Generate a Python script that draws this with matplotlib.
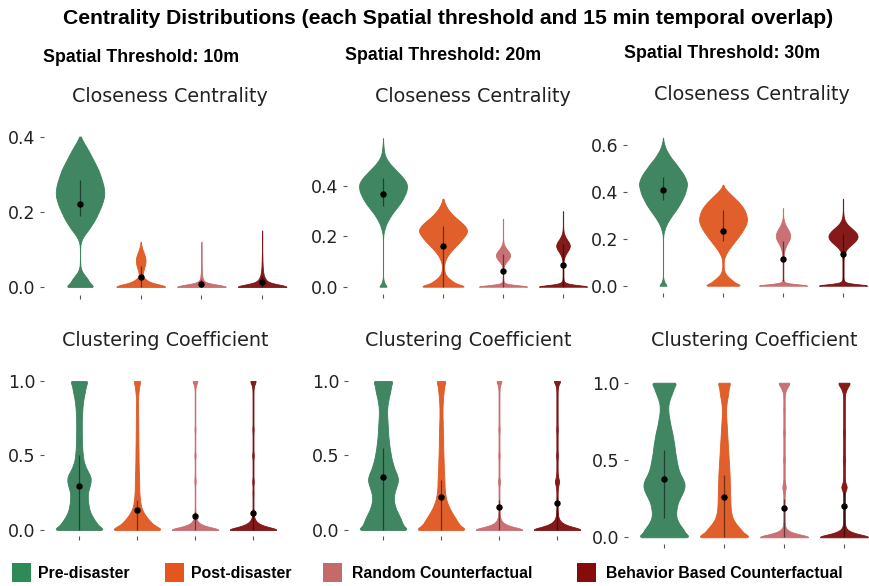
import numpy as np
import matplotlib
matplotlib.use('Agg')
import matplotlib.pyplot as plt
from matplotlib.patches import Rectangle

groups = ['Pre-disaster', 'Post-disaster', 'Random Counterfactual',
          'Behavior Based Counterfactual']
colors = ['#2e8b57', '#e4561d', '#c46a6a', '#860b0b']
violin_colors = ['#37805a', '#e0561f', '#c8696c', '#7d0d0d']
thresholds = ['10m', '20m', '30m']

# closeness centrality: number of nodes per 0.01 bin, first bin at 0.0
close_step = 0.01
close_10 = [
    [130, 80, 66, 42, 18, 6, 2, 1, 1, 1, 1,
     2, 8, 20, 40, 64, 86, 106, 124, 140, 154, 168, 180, 190, 198, 200,
     198, 192, 184, 174, 164, 152, 138, 122, 106, 90, 74, 56, 38, 20, 6],
    [200, 65, 29, 8, 14, 20, 27, 30, 27, 19, 10, 4, 1],
    [200, 20, 8, 5, 3, 2, 2, 1, 1, 1, 1, 1, 1],
    [200, 40, 20, 10, 6, 4, 3, 2, 2, 1, 1, 1, 1, 1, 1, 1],
]
close_20 = [
    [38, 16, 8, 3] + [1] * 16 +
    [2, 4, 8, 14, 20, 28, 38, 50, 62, 76, 92, 108, 124, 140, 154, 166, 176,
     186, 194, 198, 200, 196, 186, 172, 154, 134, 114, 94, 74, 56, 40, 28,
     18, 12, 8, 6, 4, 2, 1, 1],
    [216, 120, 84, 56, 34, 20, 12, 9, 9, 10, 16, 24, 34, 48, 64, 82, 102,
     122, 142, 160, 176, 190, 200, 196, 184, 164, 140, 116, 92, 72, 54, 38,
     26, 16, 8, 4],
    [200, 10, 3, 2, 1, 1, 2, 2, 4, 9, 20, 32, 40, 40, 32, 20, 11, 4, 2,
     1, 1, 1, 1, 1, 1, 1, 1, 1],
    [200, 25, 5, 3, 2, 2, 2, 2, 2, 2, 3, 5, 9, 16, 25, 34, 40, 38, 30, 20,
     12, 6, 3, 2, 1, 1, 1, 1, 1, 1, 1],
]
close_30 = [
    [38, 16, 8, 3] + [1] * 17 +
    [2, 4, 8, 14, 20, 28, 38, 50, 62, 76, 90, 104, 118, 130, 142, 152, 162,
     172, 180, 186, 192, 196, 200, 198, 192, 184, 174, 162, 148, 134, 120,
     106, 90, 74, 60, 48, 36, 26, 18, 12, 6, 3, 1],
    [168, 110, 84, 60, 38, 22, 12, 8, 6, 6, 6, 8, 12, 20, 30, 42, 56, 70,
     86, 100, 116, 130, 144, 158, 170, 180, 190, 196, 200, 198, 194, 188,
     180, 170, 156, 140, 122, 102, 82, 62, 42, 24, 10, 2],
    [200, 12, 4, 2, 2, 2, 2, 2, 2, 2, 2, 2, 3, 4, 6, 8, 12, 17, 24, 32, 38,
     41, 40, 35, 28, 20, 13, 8, 4, 2, 1, 1, 1, 1],
    [200, 20, 6, 3, 3, 3, 3, 3, 3, 3, 3, 3, 4, 6, 10, 16, 26, 40, 56, 70,
     80, 84, 80, 70, 56, 40, 26, 16, 9, 5, 3, 2, 1, 1, 1, 1, 1, 1],
]

# clustering coefficient: number of nodes per 0.025 bin from 0.0 to 1.0
clust_step = 0.025
clust_10 = [
    [254, 184, 160, 136, 116, 100, 92, 86, 82, 80, 82, 90, 100, 108, 108,
     96, 76, 60, 48, 40, 36, 32, 30, 28, 28, 26, 26, 26, 26, 26, 26, 28, 30,
     32, 36, 40, 46, 54, 60, 66, 86],
    [257, 170, 130, 100, 74, 54, 40, 32, 28, 24, 22, 20, 20, 20, 18, 18, 16,
     16, 15, 14, 14, 14, 13, 13, 12, 12, 12, 11, 11, 11, 10, 10, 10, 10, 9,
     8, 10, 14, 18, 22, 34],
    [200, 60, 20, 8, 4, 3, 2, 2, 2, 2, 2, 2, 2, 5, 3, 2, 2, 2, 2, 2, 5, 2, 2,
     2, 2, 2, 2, 4, 2, 2, 2, 2, 2, 2, 2, 2, 2, 2, 3, 6, 20],
    [200, 70, 26, 10, 5, 4, 3, 3, 3, 3, 4, 3, 3, 6, 3, 3, 3, 3, 3, 3, 6, 3, 3,
     3, 3, 3, 3, 5, 3, 3, 3, 3, 3, 3, 3, 3, 3, 3, 4, 8, 22],
]
clust_20 = [
    [252, 190, 178, 164, 148, 130, 116, 106, 100, 100, 106, 116, 128, 138,
     138, 128, 112, 100, 90, 80, 74, 68, 62, 58, 54, 50, 48, 46, 44, 42, 40,
     38, 38, 40, 44, 50, 58, 66, 72, 76, 98],
    [255, 180, 156, 136, 114, 94, 76, 62, 50, 42, 38, 34, 32, 32, 30, 28, 26,
     26, 24, 24, 22, 22, 20, 20, 20, 20, 18, 18, 16, 16, 14, 14, 14, 14, 16,
     18, 20, 24, 28, 32, 46],
    [200, 64, 22, 9, 5, 4, 3, 3, 3, 3, 3, 3, 3, 8, 3, 3, 3, 3, 3, 3, 5, 3, 3,
     3, 3, 3, 3, 5, 3, 3, 3, 3, 3, 3, 3, 3, 3, 3, 4, 7, 20],
    [200, 76, 28, 12, 6, 5, 4, 4, 4, 4, 4, 5, 8, 16, 8, 5, 4, 4, 4, 4, 7, 4,
     4, 4, 4, 4, 4, 6, 4, 4, 4, 4, 4, 4, 4, 4, 4, 4, 5, 9, 26],
]
clust_30 = [
    [252, 190, 176, 148, 126, 112, 108, 110, 116, 124, 140, 158, 174, 184,
     184, 170, 152, 136, 126, 118, 112, 106, 100, 96, 92, 86, 80, 74, 66, 58,
     52, 46, 40, 38, 38, 44, 54, 68, 82, 92, 121],
    [256, 176, 150, 120, 94, 76, 66, 60, 58, 56, 56, 54, 54, 52, 52, 50, 50,
     48, 46, 44, 42, 40, 38, 36, 34, 32, 30, 28, 26, 24, 22, 20, 18, 18, 20,
     24, 30, 36, 40, 44, 61],
    [200, 56, 14, 6, 4, 4, 4, 4, 4, 4, 4, 4, 6, 12, 6, 4, 4, 4, 4, 4, 6, 4, 4,
     4, 4, 4, 4, 6, 4, 4, 4, 4, 4, 5, 4, 4, 4, 5, 10, 22, 40],
    [200, 60, 16, 7, 5, 5, 5, 5, 5, 5, 5, 5, 8, 20, 8, 5, 5, 5, 5, 5, 8, 5, 5,
     5, 5, 5, 5, 7, 5, 5, 5, 5, 5, 5, 5, 5, 5, 6, 12, 24, 42],
]

# medians (dots) and interquartile ranges (thin lines)
close_med = [[0.22, 0.027, 0.008, 0.013], [0.37, 0.163, 0.064, 0.086],
             [0.407, 0.232, 0.112, 0.137]]
close_q1 = [[0.19, 0.0, 0.0, 0.0], [0.32, 0.0, 0.0, 0.0],
            [0.365, 0.19, 0.02, 0.02]]
close_q3 = [[0.285, 0.055, 0.02, 0.03], [0.43, 0.24, 0.13, 0.17],
            [0.464, 0.322, 0.19, 0.22]]
clust_med = [[0.298, 0.134, 0.094, 0.112], [0.358, 0.224, 0.157, 0.179],
             [0.377, 0.26, 0.188, 0.203]]
clust_q1 = [[0.0, 0.0, 0.0, 0.0], [0.0, 0.0, 0.0, 0.0],
            [0.123, 0.0, 0.0, 0.0]]
clust_q3 = [[0.5, 0.2, 0.12, 0.14], [0.55, 0.336, 0.2, 0.22],
            [0.567, 0.405, 0.25, 0.3]]

W, H = 869, 586
fig = plt.figure(figsize=(W / 100, H / 100), dpi=100)


def px_axes(x0, x1, ytop, ybot):
    return fig.add_axes([x0 / W, 1 - ybot / H, (x1 - x0) / W, (ybot - ytop) / H])


def draw_panel(ax, counts, step, med, q1, q3, ylim, yticks):
    for i, c in enumerate(counts):
        vals = np.repeat(np.arange(len(c)) * step, c)
        h = 0.6 * step
        vp = ax.violinplot(vals, positions=[i + 1], widths=0.8, points=400,
                           showextrema=False,
                           bw_method=lambda k, h=h: h / np.std(k.dataset, ddof=1))
        for b in vp['bodies']:
            b.set_facecolor(violin_colors[i])
            b.set_edgecolor(violin_colors[i])
            b.set_linewidth(0.6)
            b.set_alpha(0.95)
        ax.vlines(i + 1, q1[i], q3[i], color='black', lw=0.9, alpha=0.5, zorder=3)
        ax.scatter(i + 1, med[i], s=13, color='black', zorder=4)
    ax.set_xlim(0.4, 4.6)
    ax.set_ylim(*ylim)
    ax.set_xticks([1, 2, 3, 4])
    ax.set_xticklabels([])
    ax.set_yticks(yticks)
    ax.set_yticklabels(['%.1f' % t for t in yticks], fontsize=12.5, color='#222222')
    ax.tick_params(length=3, width=0.8, color='#555555', pad=3)
    for s in ax.spines.values():
        s.set_visible(False)


# top row: closeness centrality
top_axes = [px_axes(43.6, 298.5, 129.0, 294.5),
            px_axes(347, 599, 130.6, 294.3),
            px_axes(627, 879, 130.6, 292.8)]
close_data = [close_10, close_20, close_30]
close_lims = [(-0.02, 0.42), (-0.03, 0.62), (-0.03, 0.66)]
close_ticks = [[0, 0.2, 0.4], [0, 0.2, 0.4], [0, 0.2, 0.4, 0.6]]
for j, ax in enumerate(top_axes):
    draw_panel(ax, close_data[j], close_step, close_med[j], close_q1[j],
               close_q3[j], close_lims[j], close_ticks[j])

# bottom row: clustering coefficient
bot_axes = [px_axes(44.2, 287.8, 375, 536),
            px_axes(348.2, 591.8, 375, 536),
            px_axes(628, 880, 376.5, 543.5)]
clust_data = [clust_10, clust_20, clust_30]
for j, ax in enumerate(bot_axes):
    draw_panel(ax, clust_data[j], clust_step, clust_med[j], clust_q1[j],
               clust_q3[j], (-0.04, 1.04), [0, 0.5, 1.0])

bold = dict(family='Liberation Sans', weight='bold', color='black')
fig.text(448 / W, 1 - 19 / H,
         'Centrality Distributions (each Spatial threshold and 15 min temporal overlap)',
         ha='center', va='center', fontsize=15.2, **bold)
for x, y, t in zip([141, 443, 722], [57, 56, 53], thresholds):
    fig.text(x / W, 1 - y / H, 'Spatial Threshold: ' + t, ha='center',
             va='center', fontsize=12.8, **bold)

for x, y in zip([170, 473, 752], [97, 97, 95]):
    fig.text(x / W, 1 - y / H, 'Closeness Centrality', ha='center',
             va='center', fontsize=13.8, color='#222222')
for x, y in zip([165, 468, 754], [340, 340, 340]):
    fig.text(x / W, 1 - y / H, 'Clustering Coefficient', ha='center',
             va='center', fontsize=13.8, color='#222222')

# legend along the bottom edge
for x, tx, g, c in zip([12, 165, 323, 577], [38, 191, 352, 606], groups, colors):
    fig.patches.append(Rectangle((x / W, 1 - 582 / H), 19 / W, 19 / H,
                                 transform=fig.transFigure, facecolor=c,
                                 edgecolor='none'))
    fig.text(tx / W, 1 - 573 / H, g, ha='left', va='center', fontsize=11.4, **bold)

fig.savefig('out.png', dpi=100)
